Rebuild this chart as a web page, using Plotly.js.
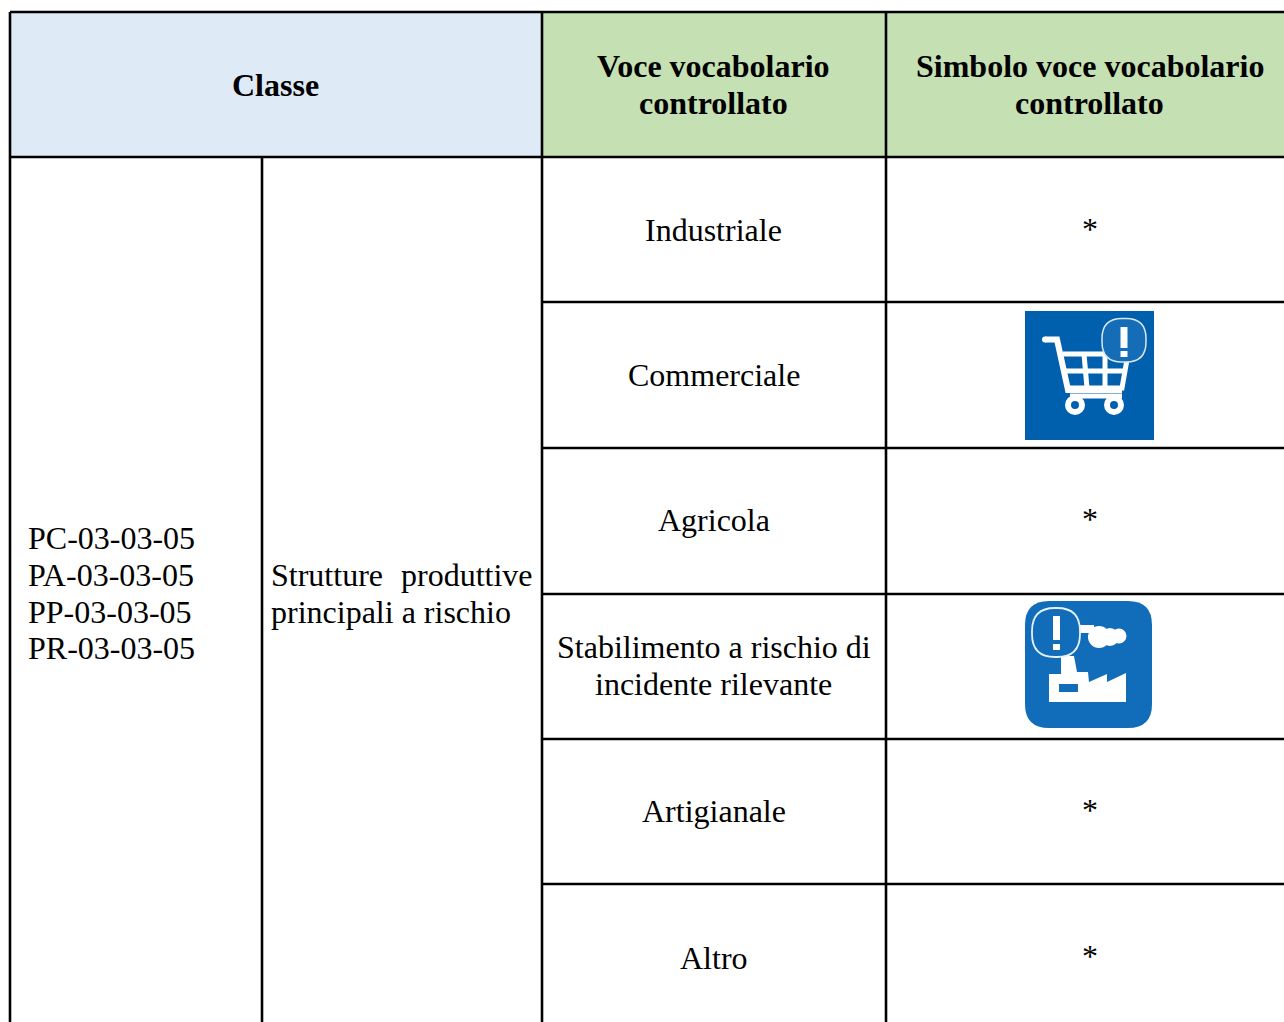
<!DOCTYPE html>
<html><head><meta charset="utf-8">
<script src="https://cdn.plot.ly/plotly-3.0.1.min.js"></script>
<style>html,body{margin:0;padding:0;background:#fff;overflow:hidden}</style>
</head><body><div id="chart" style="width:1284px;height:1022px"></div>
<script>
const headerClass = "Classe";
const headerVoce = "Voce vocabolario<br>controllato";
const headerSimbolo = "Simbolo voce vocabolario<br>controllato";
const codes = ["PC-03-03-05","PA-03-03-05","PP-03-03-05","PR-03-03-05"];
const voci = ["Industriale","Commerciale","Agricola","Stabilimento a rischio di<br>incidente rilevante","Artigianale","Altro"];
const simboli = ["*","","*","","*","*"];
const colEdges = [10,262,542,886,1290];
const rowEdges = [12,157,302,448,594,739,884,1030];
const headerBlue = "#DEEAF6", headerGreen = "#C5E0B3";
const serif = "'Liberation Serif','Times New Roman',serif";
const fs = 32;

const shapes = [];
const rect = (x0,y0,x1,y1,fill,lw=0,lc="#000") => shapes.push({type:"rect",xref:"x",yref:"y",x0,y0,x1,y1,fillcolor:fill,line:{width:lw,color:lc}});
const line = (x0,y0,x1,y1,w=2.6) => shapes.push({type:"line",xref:"x",yref:"y",x0,y0,x1,y1,line:{color:"#000",width:w}});
const path = (d,fill,lw=0,lc="#fff") => shapes.push({type:"path",xref:"x",yref:"y",path:d,fillcolor:fill||"rgba(0,0,0,0)",line:{width:lw,color:lc}});
const circ = (cx,cy,r,fill,lw=0,lc="#fff") => shapes.push({type:"circle",xref:"x",yref:"y",x0:cx-r,x1:cx+r,y0:cy-r,y1:cy+r,fillcolor:fill,line:{width:lw,color:lc}});
const rrect = (x0,y0,x1,y1,r) => `M${x0+r},${y0}L${x1-r},${y0}Q${x1},${y0} ${x1},${y0+r}L${x1},${y1-r}Q${x1},${y1} ${x1-r},${y1}L${x0+r},${y1}Q${x0},${y1} ${x0},${y1-r}L${x0},${y0+r}Q${x0},${y0} ${x0+r},${y0}Z`;

// header fills
rect(colEdges[0],rowEdges[0],colEdges[2],rowEdges[1],headerBlue);
rect(colEdges[2],rowEdges[0],colEdges[3],rowEdges[1],headerGreen);
rect(colEdges[3],rowEdges[0],colEdges[4],rowEdges[1],headerGreen);

// cart icon
const B1="#0060AE";
rect(1025,311,1154,440,B1);
circ(1045,339.5,3,"#fff");
path("M1045,339.5L1057,339.5L1068,390L1122,390","",6);
path("M1063,354L1128,354L1122,388L1069,388","",5);
path("M1066,371L1125,371","",5);
path("M1084,354L1087,388","",5);
path("M1105,354L1105,388","",5);
path("M1070,396L1122,396","",5);
circ(1075,405,7,B1,6);
circ(1114,405,7,B1,6);
path(rrect(1102,318.5,1146,362,20),"#166DB7",1.5,"#D9E7F3");
rect(1120.5,327,1127.5,348,"#fff");
rect(1120.5,351,1127.5,357,"#fff");

// factory icon
const B2="#116DB9";
path(rrect(1025,601,1152,728,24),B2);
path("M1049,674L1061,674L1061,656L1074,656L1077,672L1088,672L1089,682L1107,674L1107,682L1126,673L1126,702L1049,702Z","#fff");
rect(1059,684,1078,692,B2);
rect(1078,625,1094,633,"#fff");
circ(1099,637,11,"#fff");circ(1110,637,9,"#fff");circ(1119,636,7.5,"#fff");
path(rrect(1032,608,1080,657,23),B2,1.8,"#E6F0F8");
rect(1053,616,1060,640,"#fff");
rect(1053,644,1060,650,"#fff");

// grid
line(colEdges[0],rowEdges[0],1290,rowEdges[0]);
line(colEdges[0],rowEdges[1],1290,rowEdges[1]);
for(let i=2;i<rowEdges.length-1;i++) line(colEdges[2],rowEdges[i],1290,rowEdges[i]);
line(colEdges[0],rowEdges[0],colEdges[0],1030);
line(colEdges[1],rowEdges[1],colEdges[1],1030);
line(colEdges[2],rowEdges[0],colEdges[2],1030);
line(colEdges[3],rowEdges[0],colEdges[3],1030);

const ann = [];
const txt = (x,y,text,anchor="center",bold=false) => ann.push({xref:"x",yref:"y",x,y,text,showarrow:false,xanchor:anchor,yanchor:"middle",align:anchor,
  font:{family:serif,size:fs,color:"#000",weight:bold?700:400},borderpad:0,borderwidth:0});
txt(275.5,85,"<b>"+headerClass+"</b>");
const hv = headerVoce.split("<br>"), hs = headerSimbolo.split("<br>");
hv.forEach((t,i)=>txt(713.5,66+37*i,"<b>"+t+"</b>"));
hs.forEach((t,i)=>txt(1089.5,66+37*i,"<b>"+t+"</b>"));
const codeY=[538,575,612,648];
codes.forEach((t,i)=>txt(28,codeY[i],t,"left"));
txt(271,575,"Strutture","left");
txt(533,575,"produttive","right");
txt(271,612,"principali a rischio","left");
const vociY=[230,375,520,null,811,958];
voci.forEach((t,i)=>{
  if(vociY[i]!==null) txt(713.5,vociY[i],t);
  else t.split("<br>").forEach((p,j)=>txt(713.5,647+37*j,p));
});
const simY=[229,null,519,null,810,956];
simboli.forEach((t,i)=>{ if(t) txt(1089.5,simY[i],t); });

Plotly.newPlot("chart",[{type:"scatter",x:[],y:[],hoverinfo:"skip"}],{
  width:1284,height:1022,margin:{l:0,r:0,t:0,b:0},paper_bgcolor:"#fff",plot_bgcolor:"#fff",showlegend:false,
  xaxis:{range:[0,1284],visible:false,fixedrange:true},
  yaxis:{range:[1022,0],visible:false,fixedrange:true},
  shapes,annotations:ann
},{displayModeBar:false,staticPlot:true});
</script></body></html>
